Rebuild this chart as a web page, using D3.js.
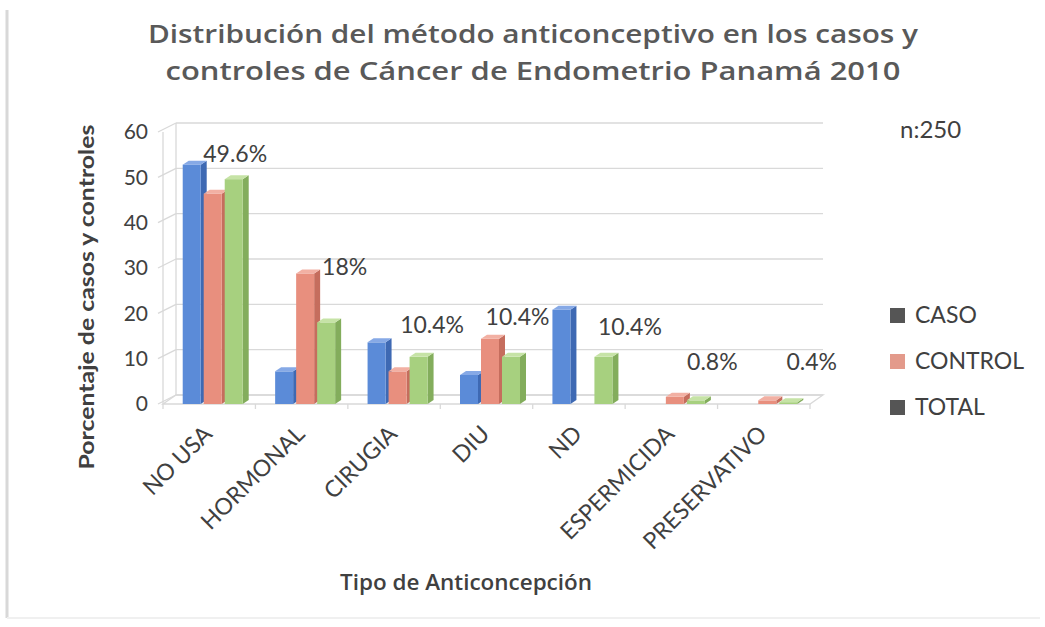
<!DOCTYPE html>
<html>
<head>
<meta charset="utf-8">
<script src="https://cdn.jsdelivr.net/npm/d3@7"></script>
<style>
  body { margin: 0; background: #fff; }
  text { font-family: Lato, "Open Sans", sans-serif; fill: #404040; }
</style>
</head>
<body>
<div id="chart"></div>
<script>
// data (percent of casos / controles, n:250)
var categories = ["NO USA", "HORMONAL", "CIRUGIA", "DIU", "ND", "ESPERMICIDA", "PRESERVATIVO"];
var seriesNames = ["CASO", "CONTROL", "TOTAL"];
var caso = [52.8, 7.2, 13.6, 6.4, 20.8, 0, 0];
var control = [46.4, 28.8, 7.2, 14.4, 0, 1.6, 0.8];
var total = [49.6, 18, 10.4, 10.4, 10.4, 0.8, 0.4];
var totalLabels = ["49.6%", "18%", "10.4%", "10.4%", "10.4%", "0.8%", "0.4%"];
var yTicks = [0, 10, 20, 30, 40, 50, 60];

// where excel dropped each total label, relative to the top of the green bar
var labelNudge = [[-9, -17], [8, -47], [3, -24], [-4, -32], [16, -22], [6, -30], [13, -32]];

var W = 1045, H = 627;
var depth = { dx: 13, dy: -9 };      // wall offset
var bar = { w: 18, step: 21, dx: 6, dy: -4 };

var colors = {
    CASO: { front: "#5b8bd8", side: "#3e69b3", top: "#86a9e6" },
    CONTROL: { front: "#e88f7e", side: "#c56d5d", top: "#f2b0a3" },
    TOTAL: { front: "#a7d07f", side: "#83ad5c", top: "#c6e3a6" }
};
var legendColors = ["#555555", "#e39a8b", "#555555"];

var svg = d3.select("#chart").append("svg")
    .attr("width", W)
    .attr("height", H);

svg.append("rect").attr("width", W).attr("height", H).attr("fill", "#fff");
// faint frame of the pasted image
svg.append("line").attr("x1", 7).attr("x2", 7).attr("y1", 10).attr("y2", 618)
    .attr("stroke", "#d8d8d8").attr("stroke-width", 3);
svg.append("line").attr("x1", 7).attr("x2", 1040).attr("y1", 618).attr("y2", 618)
    .attr("stroke", "#f0f0f0").attr("stroke-width", 2);

var x = d3.scaleBand()
    .domain(categories)
    .range([163, 810]);

var y = d3.scaleLinear()
    .domain([0, 60])
    .range([404, 132]);

var x0 = x.range()[0], x1 = x.range()[1];

// back wall gridlines + side wall lines
var grid = svg.append("g").attr("stroke", "#d9d9d9").attr("stroke-width", 1.3).attr("fill", "none");
yTicks.forEach(function (t) {
    grid.append("line")
        .attr("x1", x0 + depth.dx).attr("x2", x1 + depth.dx)
        .attr("y1", y(t) + depth.dy).attr("y2", y(t) + depth.dy);
    grid.append("line")
        .attr("x1", x0 - 5).attr("x2", x0 + depth.dx)
        .attr("y1", y(t)).attr("y2", y(t) + depth.dy);
});
grid.append("line")
    .attr("x1", x0 + depth.dx).attr("x2", x0 + depth.dx)
    .attr("y1", y(60) + depth.dy).attr("y2", y(0) + depth.dy);
// floor
grid.append("path")
    .attr("d", "M" + x0 + "," + y(0) + "L" + x1 + "," + y(0) +
        "L" + (x1 + depth.dx) + "," + (y(0) + depth.dy) +
        "L" + (x0 + depth.dx) + "," + (y(0) + depth.dy) + "Z");
// front value axis
grid.append("line")
    .attr("x1", x0).attr("x2", x0)
    .attr("y1", y(60)).attr("y2", y(0));
// category ticks
d3.range(categories.length + 1).forEach(function (i) {
    var tx = x0 + i * x.step();
    grid.append("line").attr("x1", tx).attr("x2", tx).attr("y1", y(0)).attr("y2", y(0) + 5);
});

// y tick labels
svg.append("g").selectAll("text")
    .data(yTicks)
    .enter().append("text")
    .attr("x", 148)
    .attr("y", function (d) { return y(d); })
    .attr("dy", "0.35em")
    .attr("text-anchor", "end")
    .style("font-size", "21px")
    .text(function (d) { return d; });

// bars, drawn back-to-front so the 3d faces overlap like excel
var series = [caso, control, total];
var barsG = svg.append("g");

function drawBar(g, bx, v, c) {
    var top = y(v), base = y(0);
    g.append("path")  // side
        .attr("d", "M" + (bx + bar.w) + "," + top + "L" + (bx + bar.w + bar.dx) + "," + (top + bar.dy) +
            "L" + (bx + bar.w + bar.dx) + "," + (base + bar.dy) + "L" + (bx + bar.w) + "," + base + "Z")
        .attr("fill", c.side);
    g.append("rect")  // front
        .attr("x", bx).attr("y", top)
        .attr("width", bar.w).attr("height", Math.max(0.8, base - top))
        .attr("fill", c.front);
    g.append("path")  // top
        .attr("d", "M" + bx + "," + top + "L" + (bx + bar.w) + "," + top +
            "L" + (bx + bar.w + bar.dx) + "," + (top + bar.dy) + "L" + (bx + bar.dx) + "," + (top + bar.dy) + "Z")
        .attr("fill", c.top);
}

categories.forEach(function (cat, i) {
    var center = x(cat) + x.bandwidth() / 2 + 5;
    series.forEach(function (vals, s) {
        if (vals[i] <= 0) return;
        var bx = center - 1.5 * bar.step + s * bar.step;
        drawBar(barsG, bx, vals[i], colors[seriesNames[s]]);
    });
});

// total labels
svg.append("g").selectAll("text")
    .data(total)
    .enter().append("text")
    .attr("x", function (d, i) {
        return x(categories[i]) + x.bandwidth() / 2 + 5 + bar.step + bar.w / 2 + labelNudge[i][0];
    })
    .attr("y", function (d, i) { return y(d) + labelNudge[i][1]; })
    .attr("text-anchor", "middle")
    .style("font-size", "23px")
    .text(function (d, i) { return totalLabels[i]; });

// category labels
svg.append("g").selectAll("text")
    .data(categories)
    .enter().append("text")
    .attr("transform", function (d) {
        return "translate(" + (x(d) + x.bandwidth() / 2 - 7) + "," + 424 + ") rotate(-45)";
    })
    .attr("text-anchor", "end")
    .attr("dy", "0.7em")
    .style("font-size", "23px")
    .text(function (d) { return d; });

// title
var title = ["Distribución del método anticonceptivo en los casos y",
    "controles de Cáncer de Endometrio Panamá 2010"];
var titleLen = [770, 735];
svg.append("g").selectAll("text")
    .data(title)
    .enter().append("text")
    .attr("x", 533)
    .attr("y", function (d, i) { return 43 + i * 37; })
    .attr("text-anchor", "middle")
    .attr("textLength", function (d, i) { return titleLen[i]; })
    .attr("lengthAdjust", "spacingAndGlyphs")
    .style("font-family", "'Open Sans', sans-serif")
    .style("font-size", "25px")
    .style("font-weight", "600")
    .style("fill", "#595959")
    .text(function (d) { return d; });

// axis titles
svg.append("text")
    .attr("transform", "translate(94,297) rotate(-90)")
    .attr("text-anchor", "middle")
    .attr("textLength", 345)
    .attr("lengthAdjust", "spacingAndGlyphs")
    .style("font-size", "21px")
    .style("font-weight", "bold")
    .text("Porcentaje de casos y controles");

svg.append("text")
    .attr("x", 466).attr("y", 590)
    .attr("text-anchor", "middle")
    .attr("textLength", 252)
    .attr("lengthAdjust", "spacingAndGlyphs")
    .style("font-family", "'Open Sans', sans-serif")
    .style("font-size", "21px")
    .style("font-weight", "600")
    .text("Tipo de Anticoncepción");

svg.append("text")
    .attr("x", 900).attr("y", 138)
    .style("font-size", "24px")
    .text("n:250");

// legend
var legend = svg.append("g").selectAll("g")
    .data(seriesNames)
    .enter().append("g")
    .attr("transform", function (d, i) { return "translate(890," + (315 + i * 46) + ")"; });
legend.append("rect")
    .attr("x", 0).attr("y", -7)
    .attr("width", 15).attr("height", 15)
    .attr("fill", function (d, i) { return legendColors[i]; });
legend.append("text")
    .attr("x", 25).attr("dy", "0.36em")
    .style("font-size", "23px")
    .text(function (d) { return d; });
</script>
</body>
</html>
